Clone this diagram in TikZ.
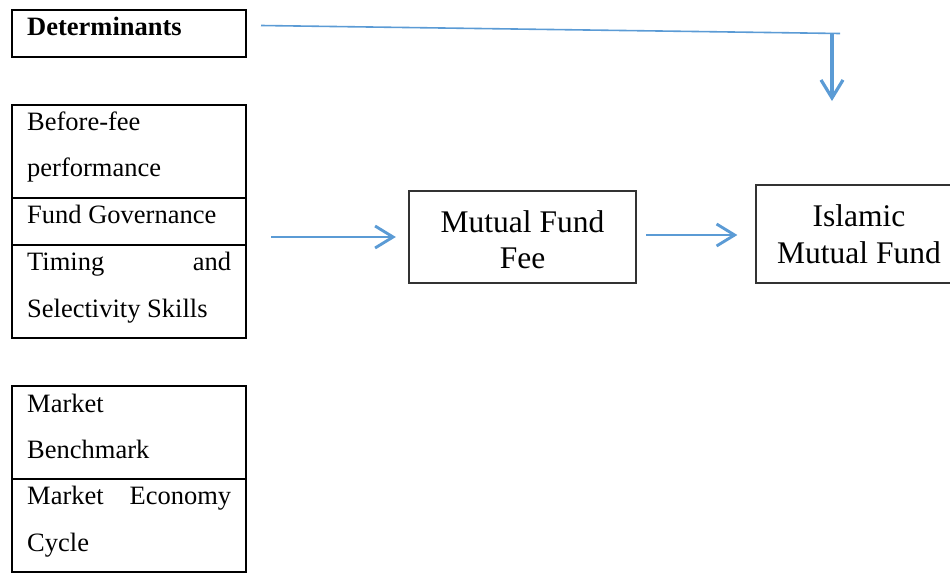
\documentclass[tikz,border=0pt]{standalone}
\usepackage{fontspec}
\setmainfont{Liberation Serif}
\usetikzlibrary{arrows.meta}
\definecolor{arrblue}{HTML}{5B9BD5}
\tikzset{
  cell/.style={draw=black, line width=1.8pt, inner sep=0pt, minimum width=234pt},
  bigbox/.style={draw=black!80, line width=1.3pt, inner sep=0pt},
  lefttxt/.style={anchor=base west, inner sep=0pt, font=\fontsize{26.5}{30}\selectfont},
  bigtxt/.style={anchor=base, inner sep=0pt, font=\fontsize{31.5}{36}\selectfont},
  arr/.style={draw=arrblue, line width=2.9pt, -{Straight Barb[length=18pt,width=22pt]}},
}
\begin{document}
\begin{tikzpicture}[x=1pt,y=-1pt]
\useasboundingbox (0,0) rectangle (950,573);
% left boxes
\node[cell, minimum height=47pt] (det) at (129,33.5) {};
\node[cell, minimum height=93pt] (c1) at (129,151.5) {};
\node[cell, minimum height=47pt] (c2) at (129,221.5) {};
\node[cell, minimum height=93pt] (c3) at (129,291.5) {};
\node[cell, minimum height=93pt] (c4) at (129,432.5) {};
\node[cell, minimum height=93pt] (c5) at (129,525.5) {};
% left texts
\node[lefttxt] (tdet) at (27,35) {\bfseries Determinants};
\node[lefttxt] (t1a) at (27,130) {Before-fee};
\node[lefttxt] (t1b) at (27,176) {performance};
\node[lefttxt] (t2) at (27,223) {Fund Governance};
\node[lefttxt, text width=204pt] (t3a) at (27,270) {Timing\hfill and};
\node[lefttxt] (t3b) at (27,317) {Selectivity Skills};
\node[lefttxt] (t4a) at (27,412) {Market};
\node[lefttxt] (t4b) at (27,458) {Benchmark};
\node[lefttxt, text width=204pt] (t5a) at (27,504) {Market\hfill Economy};
\node[lefttxt] (t5b) at (27,551) {Cycle};
% right boxes
\node[bigbox, minimum width=227pt, minimum height=92pt] (fee) at (522.5,237) {};
\node[bigtxt] (feea) at (522.5,232) {Mutual Fund};
\node[bigtxt] (feeb) at (522.5,268) {Fee};
\node[bigbox, minimum width=196pt, minimum height=98pt] (isl) at (854,234) {};
\node[bigtxt] (isla) at (859,226) {Islamic};
\node[bigtxt] (islb) at (859,263) {Mutual Fund};
% connectors
\coordinate (a1) at (271,237);
\draw[arr, shorten >=12.5pt] (a1) -- (fee.west);
\coordinate (a2) at (646,235);
\draw[arr, shorten >=18pt] (a2) -- (a2 -| isl.west);
\coordinate (p1) at (261,25.5);
\coordinate (p2) at (840,33.5);
\coordinate (p3) at (832,34);
\coordinate (p4) at (832,101);
\draw[arrblue, line width=1.6pt] (p1) -- (p2);
\draw[arr, line width=3.2pt] (p3) -- (p4);
\end{tikzpicture}
\end{document}
